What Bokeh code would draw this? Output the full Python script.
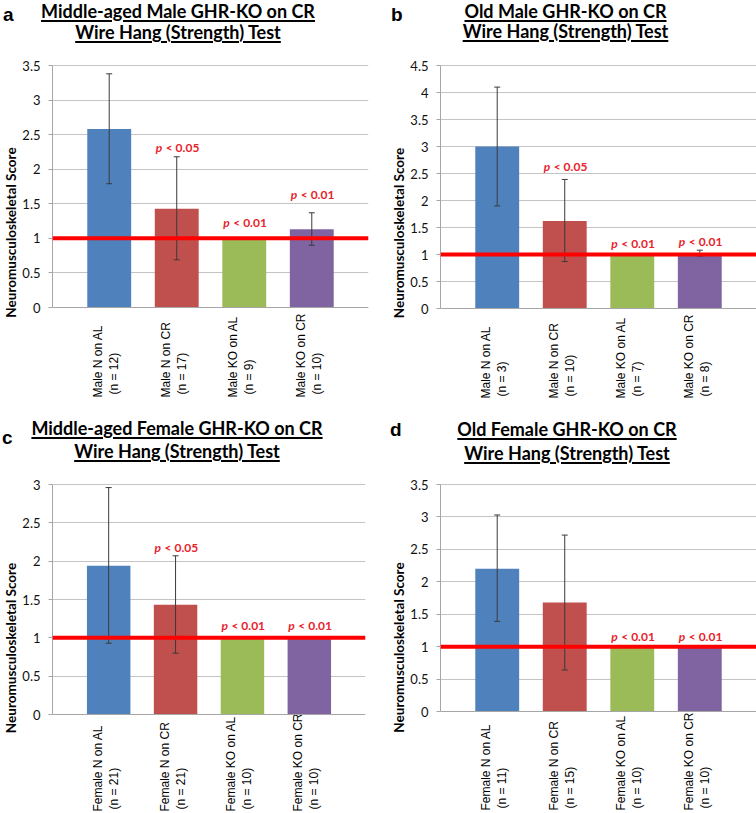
from bokeh.plotting import figure
from bokeh.layouts import row, column
from bokeh.models import (FactorRange, Range1d, Span, Whisker, TeeHead, Div,
                          ColumnDataSource, FixedTicker, NumeralTickFormatter)
from bokeh.core.properties import value
from bokeh.embed import file_html
from bokeh.resources import INLINE

# ---------------- data ----------------
colors = ["#4F81BD", "#C0504D", "#9BBB59", "#8064A2"]

title_a = ["Middle-aged Male GHR-KO on CR", "Wire Hang (Strength) Test"]
cats_a = ["Male N on AL\n(n = 12)", "Male N on CR\n(n = 17)", "Male KO on AL\n(n = 9)", "Male KO on CR\n(n = 10)"]
mean_a = [2.58, 1.43, 1.00, 1.13]
upper_a = [3.38, 2.18, None, 1.37]
lower_a = [1.79, 0.69, None, 0.90]
pval_a = [None, "< 0.05", "< 0.01", "< 0.01"]
ppos_a = [None, 2.31, 1.23, 1.64]
ymax_a = 3.5

title_b = ["Old Male GHR-KO on CR", "Wire Hang (Strength) Test"]
cats_b = ["Male N on AL\n(n = 3)", "Male N on CR\n(n = 10)", "Male KO on AL\n(n = 7)", "Male KO on CR\n(n = 8)"]
mean_b = [3.00, 1.62, 1.00, 1.02]
upper_b = [4.10, 2.39, None, 1.08]
lower_b = [1.90, 0.87, None, 0.97]
pval_b = [None, "< 0.05", "< 0.01", "< 0.01"]
ppos_b = [None, 2.63, 1.20, 1.24]
ymax_b = 4.5

title_c = ["Middle-aged Female GHR-KO on CR", "Wire Hang (Strength) Test"]
cats_c = ["Female N on AL\n(n = 21)", "Female N on CR\n(n = 21)", "Female KO on AL\n(n = 10)", "Female KO on CR\n(n = 10)"]
mean_c = [1.94, 1.43, 1.00, 1.00]
upper_c = [2.96, 2.07, None, None]
lower_c = [0.93, 0.80, None, None]
pval_c = [None, "< 0.05", "< 0.01", "< 0.01"]
ppos_c = [None, 2.18, 1.16, 1.16]
ymax_c = 3.0

title_d = ["Old Female GHR-KO on CR", "Wire Hang (Strength) Test"]
cats_d = ["Female N on AL\n(n = 11)", "Female N on CR\n(n = 15)", "Female KO on AL\n(n = 10)", "Female KO on CR\n(n = 10)"]
mean_d = [2.20, 1.68, 1.00, 1.00]
upper_d = [3.03, 2.72, None, None]
lower_d = [1.39, 0.64, None, None]
pval_d = [None, None, "< 0.01", "< 0.01"]
ppos_d = [None, None, 1.16, 1.16]
ymax_d = 3.5

reference_level = 1.0
y_label = "Neuromusculoskeletal Score"

# ---------------- layout geometry (px, relative to each panel's corner) ----
# W: panel width; D: title strip height; left/right: plot-area edges;
# top: y of the highest gridline; zero: y of the zero line; bottom: panel bottom
geom_a = dict(W=378, D=55, left=47, right=363, top=65, zero=307, bottom=400,
              std=8, letter=(3, 22), tcx=178, tb=(17.8, 39.3), xl=(90, 87))
geom_b = dict(W=376, D=55, left=57, right=373, top=64, zero=307, bottom=400,
              std=8, letter=(13, 22), tcx=187.5, tb=(17.8, 38.2), xl=(90, 88))
geom_c = dict(W=378, D=73, left=47, right=360, top=83, zero=313, bottom=411,
              std=8, letter=(2, 45), tcx=177, tb=(35, 58.3), xl=(97, 95))
geom_d = dict(W=376, D=73, left=57, right=373, top=84, zero=311, bottom=411,
              std=8, letter=(12, 36.7), tcx=189, tb=(36, 60), xl=(99, 97))

RED_TXT = "#E8232B"
TITLE_PX = 18
LETTER_PX = 19


def title_div(letter, title, g):
    lx, ly = g["letter"]
    parts = [f'<div style="position:relative;width:{g["W"]}px;height:{g["D"]}px;">']
    # Liberation Sans: ascent .905em, descent .212em; line-height 22px
    lbase = (22 - 1.117 * LETTER_PX) / 2 + 0.905 * LETTER_PX
    parts.append(
        f'<div style="position:absolute;left:{lx}px;top:{ly - lbase:.1f}px;'
        f'font-family:\'Liberation Sans\';font-weight:bold;font-size:{LETTER_PX}px;'
        f'line-height:22px;color:#000;">{letter}</div>')
    # Lato: ascent .987em, descent .213em; line-height 22px
    tbase = (22 - 1.2 * TITLE_PX) / 2 + 0.987 * TITLE_PX
    for line, base in zip(title, g["tb"]):
        parts.append(
            f'<div style="position:absolute;left:{g["tcx"] - 200:.1f}px;width:400px;'
            f'top:{base - tbase:.1f}px;text-align:center;font-family:Lato;font-weight:bold;'
            f'font-size:{TITLE_PX}px;line-height:22px;color:#000;white-space:nowrap;">'
            f'<span style="text-decoration:underline;text-decoration-thickness:1.5px;'
            f'text-underline-offset:2px;">{line}</span></div>')
    parts.append('</div>')
    return Div(text="".join(parts), width=g["W"], height=g["D"], margin=0)


def make_panel(cats, means, upper, lower, pval, ppos, ymax, g):
    ppu = (g["zero"] - g["top"]) / ymax
    frame_top = g["top"] - 1
    ystart = -(g["bottom"] - g["zero"]) / ppu
    yend = ymax + 1.0 / ppu
    p = figure(x_range=FactorRange(factors=cats, range_padding=0.34,
                                   range_padding_units="absolute"),
               y_range=Range1d(ystart, yend),
               frame_width=g["right"] - g["left"],
               frame_height=g["bottom"] - frame_top,
               min_border_left=g["left"], min_border_right=g["W"] - g["right"],
               min_border_top=frame_top - g["D"], min_border_bottom=0,
               title=None, toolbar_location=None, output_backend="svg",
               background_fill_color="white", border_fill_color="white")
    p.outline_line_color = None
    p.xgrid.grid_line_color = None
    p.ygrid.grid_line_color = "#C4C4C4"
    p.ygrid.grid_line_width = 1
    p.xaxis.visible = False

    ticks = [i * 0.5 for i in range(int(round(ymax / 0.5)) + 1)]
    yax = p.yaxis[0]
    yax.bounds = (0, ymax)
    yax.ticker = FixedTicker(ticks=ticks)
    p.ygrid.ticker = FixedTicker(ticks=ticks)
    yax.formatter = NumeralTickFormatter(format="0.[0]")
    yax.minor_tick_line_color = None
    yax.major_tick_in = 0
    yax.major_tick_out = 4
    yax.major_tick_line_color = "#A6A6A6"
    yax.axis_line_color = "#A6A6A6"
    yax.major_label_text_font = "Lato"
    yax.major_label_text_font_size = "13px"
    yax.major_label_text_color = "#111111"
    yax.major_label_standoff = g["std"]
    yax.axis_label = y_label
    yax.axis_label_text_font = "Lato"
    yax.axis_label_text_font_style = "bold"
    yax.axis_label_text_font_size = "13.5px"
    yax.axis_label_text_color = "#000000"
    yax.axis_label_standoff = 0

    # bars
    src = ColumnDataSource(dict(x=cats, top=means, color=colors))
    p.vbar(x="x", top="top", bottom=0, width=0.65, source=src,
           fill_color="color", line_color=None)

    # error bars
    ex = [c for c, u in zip(cats, upper) if u is not None]
    eu = [u for u in upper if u is not None]
    el = [l for l in lower if l is not None]
    esrc = ColumnDataSource(dict(base=ex, upper=eu, lower=el))
    w = Whisker(base="base", upper="upper", lower="lower", source=esrc,
                dimension="height", line_color="#3A3A3A", line_width=1,
                upper_head=TeeHead(size=6, line_color="#3A3A3A", line_width=1),
                lower_head=TeeHead(size=6, line_color="#3A3A3A", line_width=1),
                level="annotation")
    p.add_layout(w)

    # axis base line & reference line
    p.add_layout(Span(location=0, dimension="width", line_color="#A6A6A6", line_width=1))
    p.add_layout(Span(location=reference_level, dimension="width",
                      line_color="#FF0000", line_width=4))

    # p-value labels
    px = [c for c, t in zip(cats, pval) if t is not None]
    pt = [t for t in pval if t is not None]
    py = [y for y in ppos if y is not None]
    psrc = ColumnDataSource(dict(x=px, y=py, t=pt, p=["p"] * len(pt)))
    p.text(x="x", y="y", text="p", source=psrc, text_font=value("Lato"),
           text_font_style="bold italic", text_font_size="12px",
           text_color=RED_TXT, text_align="left", text_baseline="middle",
           x_offset=-21)
    p.text(x="x", y="y", text="t", source=psrc, text_font=value("Lato"),
           text_font_style="bold", text_font_size="12px",
           text_color=RED_TXT, text_align="left", text_baseline="middle",
           x_offset=-11)

    # category labels: two rotated lines each, starting below the zero line
    line1 = [c.split("\n")[0] for c in cats]
    line2 = [c.split("\n")[1] for c in cats]
    lsrc = ColumnDataSource(dict(x=cats, y=[0] * len(cats), l1=line1, l2=line2))
    for field, xo, yo in (("l1", -11, g["xl"][0]), ("l2", 5, g["xl"][1])):
        p.text(x="x", y="y", text=field, source=lsrc, angle=90, angle_units="deg",
               x_offset=xo, y_offset=yo, text_align="left", text_baseline="middle",
               text_font=value("Liberation Sans"), text_font_size="12px",
               text_color="#000000")
    return p


da = title_div("a", title_a, geom_a)
db = title_div("b", title_b, geom_b)
dc = title_div("c", title_c, geom_c)
dd = title_div("d", title_d, geom_d)

pa = make_panel(cats_a, mean_a, upper_a, lower_a, pval_a, ppos_a, ymax_a, geom_a)
pb = make_panel(cats_b, mean_b, upper_b, lower_b, pval_b, ppos_b, ymax_b, geom_b)
pc = make_panel(cats_c, mean_c, upper_c, lower_c, pval_c, ppos_c, ymax_c, geom_c)
pd = make_panel(cats_d, mean_d, upper_d, lower_d, pval_d, ppos_d, ymax_d, geom_d)

layout = column(row(da, db), row(pa, pb), row(dc, dd), row(pc, pd))

with open("out.html", "w") as f:
    f.write(file_html(layout, INLINE))
